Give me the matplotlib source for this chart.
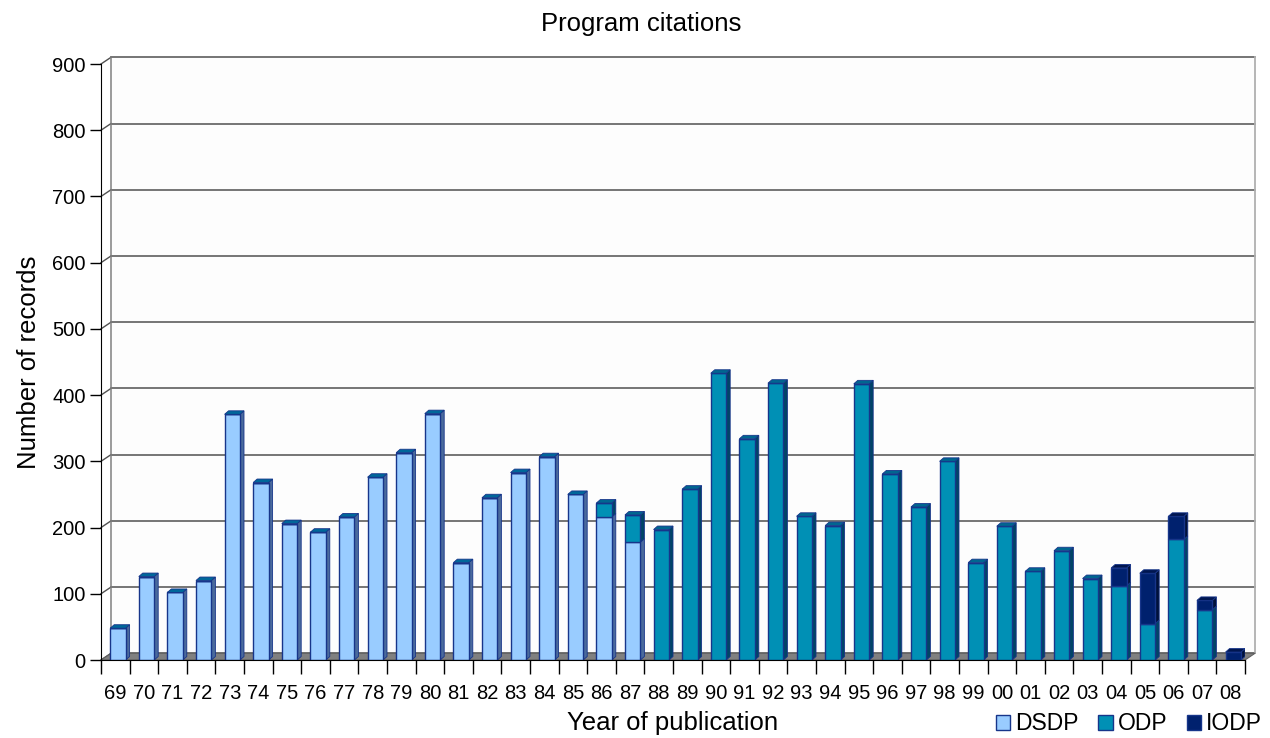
import numpy as np
import matplotlib.pyplot as plt
from matplotlib.patches import Polygon

plt.rcParams['font.family'] = ['Liberation Sans', 'DejaVu Sans']

years = ['69', '70', '71', '72', '73', '74', '75', '76', '77', '78',
         '79', '80', '81', '82', '83', '84', '85', '86', '87', '88',
         '89', '90', '91', '92', '93', '94', '95', '96', '97', '98',
         '99', '00', '01', '02', '03', '04', '05', '06', '07', '08']

dsdp = [48, 126, 102, 120, 371, 268, 206, 193, 216, 276,
        313, 372, 147, 245, 283, 307, 250, 216, 178, 0,
        0, 0, 0, 0, 0, 0, 0, 0, 0, 0,
        0, 0, 0, 0, 0, 0, 0, 0, 0, 0]
odp = [0, 0, 0, 0, 0, 0, 0, 0, 0, 0,
       0, 0, 0, 0, 0, 0, 0, 21, 41, 197,
       258, 433, 334, 418, 217, 203, 417, 281, 231, 300,
       147, 202, 134, 165, 123, 112, 55, 182, 76, 0]
iodp = [0, 0, 0, 0, 0, 0, 0, 0, 0, 0,
        0, 0, 0, 0, 0, 0, 0, 0, 0, 0,
        0, 0, 0, 0, 0, 0, 0, 0, 0, 0,
        0, 0, 0, 0, 0, 27, 76, 35, 14, 12]

series = [('DSDP', dsdp, '#99ccff', '#4a6a9c', '#00679a'),
          ('ODP', odp, '#0090b5', '#004466', '#006690'),
          ('IODP', iodp, '#00216e', '#00113a', '#001650')]
edge = '#17358a'

W, H = 1270, 738
fig = plt.figure(figsize=(W / 100, H / 100), dpi=100)
ax = fig.add_axes([101 / W, (H - 660) / H, (1245 - 101) / W, (660 - 64) / H])
n = len(years)
ax.set_xlim(-0.5, n - 0.5)
ax.set_ylim(0, 900)

# pixel -> data conversion for the fake 3D depth
px_x = n / (1245 - 101)
px_y = 900 / (660 - 64)
DX, DY = 10 * px_x, 6.7 * px_y      # wall depth
bx, by = 4 * px_x, 3.5 * px_y       # bar depth

# back wall
wall = Polygon([(-0.5 + DX, DY), (n - 0.5 + DX, DY), (n - 0.5 + DX, 900 + DY), (-0.5 + DX, 900 + DY)],
               closed=True, facecolor='#fdfdfd', edgecolor='none', zorder=0, clip_on=False)
ax.add_patch(wall)
for v in range(0, 901, 100):
    ax.plot([-0.5 + DX, n - 0.5 + DX], [v + DY, v + DY], color='#505050', lw=1.1, zorder=1, clip_on=False)
    ax.plot([-0.5, -0.5 + DX], [v, v + DY], color='#505050', lw=1, zorder=1, clip_on=False)
ax.plot([-0.5 + DX, -0.5 + DX], [DY, 900 + DY], color='#808080', lw=1.1, zorder=1, clip_on=False)
ax.plot([n - 0.5 + DX, n - 0.5 + DX], [DY, 900 + DY], color='#b0b0b0', lw=1.3, zorder=1, clip_on=False)

# floor
floor = Polygon([(-0.5, 0), (n - 0.5, 0), (n - 0.5 + DX, DY), (-0.5 + DX, DY)],
                closed=True, facecolor='#808080', edgecolor='#606060', lw=0.8, zorder=2, clip_on=False)
ax.add_patch(floor)

x = np.arange(n)
w = 0.54
xc = x + 0.09
bottom = np.zeros(n)
top_color = [None] * n
for name, vals, fc, sc, tc in series:
    vals = np.array(vals, dtype=float)
    ax.bar(xc, vals, w, bottom=bottom, color=fc, edgecolor=edge, lw=1, zorder=4, label=name)
    for i in range(n):
        if vals[i] <= 0:
            continue
        xr = xc[i] + w / 2
        b, t = bottom[i], bottom[i] + vals[i]
        ax.add_patch(Polygon([(xr, b), (xr, t), (xr + bx, t + by), (xr + bx, b + by)],
                             closed=True, facecolor=sc, edgecolor=edge, lw=0.6, zorder=3))
        top_color[i] = tc
    bottom = bottom + vals
for i in range(n):
    xl, xr, t = xc[i] - w / 2, xc[i] + w / 2, bottom[i]
    ax.add_patch(Polygon([(xl, t), (xr, t), (xr + bx, t + by), (xl + bx, t + by)],
                         closed=True, facecolor=top_color[i], edgecolor=edge, lw=0.6, zorder=5))

# axes
for s in ['top', 'right']:
    ax.spines[s].set_visible(False)
ax.spines['left'].set_color('black')
ax.spines['bottom'].set_color('black')
ax.spines['left'].set_zorder(6)
ax.spines['bottom'].set_zorder(6)
ax.set_facecolor('none')
ax.set_yticks(range(0, 901, 100))
ax.tick_params(axis='y', length=8, width=1, labelsize=14.5, pad=3)
ax.set_xticks(np.arange(-0.5, n, 1))
ax.set_xticklabels([])
ax.tick_params(axis='x', which='major', length=10, width=1, direction='out')
ax.set_xticks(x, minor=True)
ax.set_xticklabels(years, minor=True, fontsize=14.5)
ax.tick_params(axis='x', which='minor', length=0, pad=17)

ax.set_xlabel('Year of publication', fontsize=18.5, labelpad=6)
ax.set_ylabel('Number of records', fontsize=18.5, labelpad=8)
fig.text(641 / W, 1 - 24 / H, 'Program citations', ha='center', va='center', fontsize=18.5)

fig.legend(loc='center right', bbox_to_anchor=(1262 / W, 1 - 724 / H), ncol=3, frameon=False,
           fontsize=16.5, handlelength=0.62, handleheight=0.62, handletextpad=0.22,
           columnspacing=0.85, borderaxespad=0, borderpad=0)

fig.savefig('out.png', dpi=100, facecolor='white')
